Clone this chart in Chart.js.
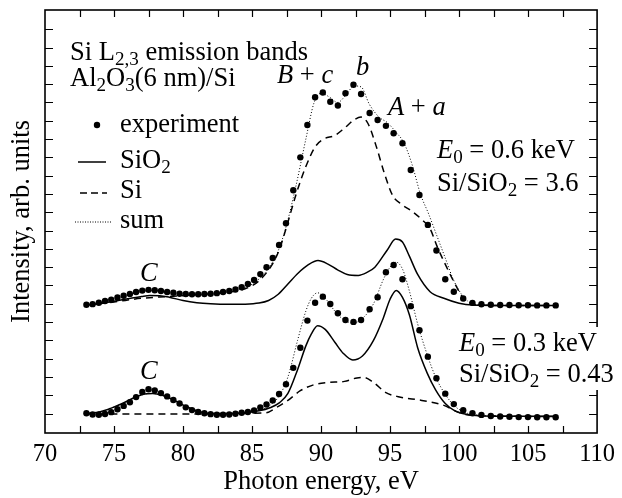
<!DOCTYPE html>
<html><head><meta charset="utf-8">
<script src="https://cdn.jsdelivr.net/npm/chart.js@4.4.1/dist/chart.umd.min.js"></script>
<style>html,body{margin:0;padding:0;background:#fff;}</style>
</head><body>
<canvas id="c" width="622" height="498"></canvas>
<script>
// ---- data (photon energy, eV ; intensity in arb. units) ----
const energy = [73.0,73.45,73.9,74.35,74.8,75.25,75.7,76.15,76.6,77.05,77.5,77.95,78.4,78.85,79.3,79.75,80.2,80.65,81.1,81.55,82.0,82.45,82.9,83.35,83.8,84.25,84.7,85.15,85.6,86.05,86.5,86.96,87.46,87.99,88.5,89.01,89.57,90.13,90.67,91.22,91.77,92.35,92.9,93.52,94.1,94.7,95.26,95.9,96.5,97.13,97.74,98.36,99.0,99.62,100.3,100.97,101.62,102.3,102.98,103.65,104.32,104.99,105.66,106.33,107.0];
const expHigh = [5.95,5.98,6.06,6.15,6.22,6.34,6.44,6.54,6.64,6.72,6.76,6.74,6.7,6.64,6.6,6.55,6.53,6.52,6.52,6.53,6.55,6.58,6.64,6.7,6.78,6.9,7.08,7.3,7.62,8.0,8.5,9.21,10.4,12.2,14.0,15.77,17.28,17.54,17.04,16.83,17.5,17.97,17.46,16.42,16.04,15.72,15.32,14.77,13.31,11.94,10.31,8.91,7.34,6.66,6.29,6.05,5.97,5.95,5.93,5.93,5.92,5.92,5.91,5.91,5.91];
const expLow = [0.02,-0.05,-0.06,-0.02,0.08,0.24,0.42,0.62,0.9,1.18,1.33,1.27,1.12,0.94,0.74,0.55,0.34,0.19,0.09,0.02,-0.03,-0.06,-0.06,-0.05,-0.01,0.05,0.09,0.17,0.33,0.5,0.72,1.07,1.6,2.5,3.6,5.08,6.06,6.39,5.99,5.48,5.11,5.01,5.11,5.7,6.36,7.72,8.12,7.34,5.87,4.55,3.11,1.93,1.09,0.52,0.18,0.02,-0.07,-0.13,-0.16,-0.17,-0.19,-0.19,-0.2,-0.2,-0.2];

const highSiO2E = [73,74,75,76,77,77.6,78.3,79,80,81,82,83.3,84.5,85.5,86.2,86.9,87.6,88.35,89.06,89.78,90.5,91.2,91.9,92.7,93.3,93.9,94.8,95.4,95.9,96.4,97.0,97.9,98.9,100.0,101.0,103,107];
const highSiO2I = [5.93,6.02,6.14,6.28,6.4,6.45,6.44,6.36,6.18,6.06,6.0,5.97,5.98,6.04,6.18,6.52,7.08,7.68,8.12,8.36,8.17,7.85,7.6,7.55,7.7,8.0,8.94,9.54,9.38,8.6,7.6,6.66,6.3,6.03,5.93,5.91,5.9];
const highSiE = [73,75,77,79,81,83,84.5,85.5,86.5,87,87.5,88.2,88.9,89.6,90.2,91,91.7,92.4,92.9,93.4,94,94.6,95.2,95.8,96.6,97.3,97.9,98.4,99.1,99.8,100.4,101,103,107];
const highSiI = [5.93,6.1,6.3,6.4,6.5,6.62,6.82,7.25,8.2,9.0,10.2,12.0,13.5,14.6,15.0,15.2,15.6,16.05,16.2,15.85,14.6,13.1,11.9,11.45,11.05,10.6,10.1,9.15,8.0,6.95,6.2,5.95,5.91,5.9];
const highSumE = [73,74,75,76,77,77.6,78.3,79,80,81,82,83,84,84.8,85.5,86.2,86.9,87.5,88.2,88.9,89.5,90.0,90.6,91.2,91.8,92.4,92.9,93.5,94.2,94.8,95.4,96.0,96.6,97.2,97.8,98.4,99.0,99.6,100.3,101,103,107];
const highSumI = [5.93,6.05,6.25,6.48,6.67,6.73,6.7,6.62,6.55,6.5,6.52,6.6,6.75,6.98,7.35,7.95,8.9,10.3,12.5,15.0,17.0,17.5,17.3,17.0,17.4,17.9,17.85,16.9,16.2,15.9,15.4,14.8,13.6,12.0,10.9,9.7,8.5,7.3,6.4,6.0,5.91,5.9];

const lowSiO2E = [73,74,74.8,75.6,76.4,77.2,77.8,78.5,79.3,80.2,81,81.8,83,84.5,85.5,86.3,87,87.6,88.3,88.9,89.3,89.75,90.3,91.0,91.6,92.3,93.0,93.8,94.5,95.0,95.45,95.9,96.4,97.0,97.7,98.3,99.0,99.7,100.6,101.5,103,107];
const lowSiO2I = [0.0,0.1,0.3,0.55,0.85,1.07,1.1,1.0,0.75,0.4,0.15,0.02,0.0,0.05,0.15,0.32,0.6,1.1,2.4,3.7,4.35,4.8,4.6,3.9,3.3,2.93,3.15,4.0,5.2,6.25,6.73,6.35,5.4,3.6,2.2,1.3,0.55,0.15,-0.05,-0.12,-0.14,-0.15];
const lowSiE = [73,80,86,86.8,87.6,88.5,89.5,90.5,91.7,92.6,93.1,93.8,94.7,95.6,97.3,98.9,99.8,100.5,103,107];
const lowSiI = [-0.02,-0.02,0.05,0.35,0.72,1.25,1.58,1.7,1.76,1.95,1.97,1.7,1.15,0.92,0.72,0.45,0.12,-0.05,-0.14,-0.16];
const lowSumE = [73,74,74.8,75.6,76.4,77.2,77.8,78.5,79.3,80.2,81,81.8,83,84.5,85.5,86.3,87,87.6,88.3,88.9,89.3,89.75,90.3,91.0,91.6,92.3,93.0,93.8,94.5,95.0,95.45,95.9,96.4,97.0,97.7,98.3,99.0,99.7,100.6,101.5,103,107];
const lowSumI = [0.0,0.1,0.3,0.55,0.85,1.07,1.1,1.0,0.75,0.4,0.15,0.02,0.0,0.05,0.17,0.45,1.0,2.0,4.0,5.6,6.3,6.6,6.3,5.6,5.15,4.95,5.2,6.0,7.3,8.0,8.27,7.9,6.7,4.9,3.2,2.0,1.05,0.4,0.02,-0.1,-0.14,-0.16];

const xTickLabels = [70,75,80,85,90,95,100,105,110];
const xTickMarks = [72.5,75,77.5,80,82.5,85,87.5,90,92.5,95,97.5,100,102.5,105,107.5];
const yTickMarks = [0,1,2,3,4,5,6,7,8,9,10,11,12,13,14,15,16,17,18,19,20,21];

// ---- helpers ----
const FONT = '"Liberation Serif","Times New Roman",serif';
const FS = 26.5;
const TICK_FS = 24.5;
const pts = (xs, ys) => xs.map((x, i) => ({x, y: ys[i]}));

function drawRuns(ctx, x, y, parts, size) {
  let cx = x;
  for (const [t, st] of parts) {
    const sub = st.includes('s');
    const it = st.includes('i');
    const fs = sub ? size * 0.72 : size;
    ctx.font = (it ? 'italic ' : '') + fs + 'px ' + FONT;
    ctx.fillText(t, cx, sub ? y + size * 0.2 : y);
    cx += ctx.measureText(t).width;
  }
  return cx;
}

const annot = {
  id: 'annot',
  afterDraw(chart) {
    const {ctx, chartArea: a, scales: {x, y}} = chart;
    ctx.save();
    ctx.strokeStyle = '#000';
    ctx.lineWidth = 1.2;
    ctx.beginPath();
    for (const v of xTickMarks) {
      const px = Math.round(x.getPixelForValue(v)) + 0.5;
      ctx.moveTo(px, a.bottom); ctx.lineTo(px, a.bottom - 7);
      ctx.moveTo(px, a.top); ctx.lineTo(px, a.top + 7);
    }
    for (const v of yTickMarks) {
      const py = Math.round(y.getPixelForValue(v)) + 0.5;
      ctx.moveTo(a.left, py); ctx.lineTo(a.left + 8, py);
      ctx.moveTo(a.right, py); ctx.lineTo(a.right - 8, py);
    }
    ctx.stroke();
    ctx.lineWidth = 1.6;
    ctx.strokeRect(a.left, a.top, a.right - a.left, a.bottom - a.top);

    // white box behind the lower-right annotation
    ctx.fillStyle = '#fff';
    ctx.fillRect(455, 327, 165, 63);

    ctx.fillStyle = '#000';
    ctx.textBaseline = 'alphabetic';
    ctx.textAlign = 'left';
    drawRuns(ctx, 70, 60, [['Si L', ''], ['2,3', 's'], [' emission bands', '']], FS);
    drawRuns(ctx, 70, 86, [['Al', ''], ['2', 's'], ['O', ''], ['3', 's'], ['(6 nm)/Si', '']], FS);
    drawRuns(ctx, 277, 83, [['B', 'i'], [' + ', ''], ['c', 'i']], FS);
    drawRuns(ctx, 356, 75, [['b', 'i']], FS);
    drawRuns(ctx, 388, 115, [['A', 'i'], [' + ', ''], ['a', 'i']], FS);
    drawRuns(ctx, 437, 158, [['E', 'i'], ['0', 's'], [' = 0.6 keV', '']], FS);
    drawRuns(ctx, 437, 191, [['Si/SiO', ''], ['2', 's'], [' = 3.6', '']], FS);
    drawRuns(ctx, 140, 281, [['C', 'i']], FS);
    drawRuns(ctx, 140, 379, [['C', 'i']], FS);
    drawRuns(ctx, 459, 351, [['E', 'i'], ['0', 's'], [' = 0.3 keV', '']], FS);
    drawRuns(ctx, 459, 382, [['Si/SiO', ''], ['2', 's'], [' = 0.43', '']], FS);

    // legend
    ctx.beginPath(); ctx.arc(97, 125, 3.2, 0, Math.PI * 2); ctx.fill();
    drawRuns(ctx, 120, 132, [['experiment', '']], FS);
    ctx.lineWidth = 1.5;
    ctx.beginPath(); ctx.moveTo(78, 162); ctx.lineTo(106, 162); ctx.stroke();
    drawRuns(ctx, 120, 168, [['SiO', ''], ['2', 's']], FS);
    ctx.setLineDash([7, 4]);
    ctx.beginPath(); ctx.moveTo(80, 193); ctx.lineTo(107, 193); ctx.stroke();
    drawRuns(ctx, 120, 198, [['Si', '']], FS);
    ctx.setLineDash([1, 1.5]);
    ctx.lineWidth = 1;
    ctx.beginPath(); ctx.moveTo(75, 222); ctx.lineTo(112, 222); ctx.stroke();
    ctx.setLineDash([]);
    drawRuns(ctx, 120, 228, [['sum', '']], FS);
    ctx.restore();
  }
};

const dotStyle = {showLine: false, pointRadius: 3.2, pointBackgroundColor: '#000', pointBorderWidth: 0, borderColor: '#000'};
const lineBase = {pointRadius: 0, borderColor: '#000', tension: 0.35, cubicInterpolationMode: 'monotone', fill: false};

new Chart(document.getElementById('c'), {
  type: 'line',
  data: {
    datasets: [
      Object.assign({label: 'experiment 0.6', data: pts(energy, expHigh)}, dotStyle),
      Object.assign({label: 'experiment 0.3', data: pts(energy, expLow)}, dotStyle),
      Object.assign({label: 'SiO2 0.6', data: pts(highSiO2E, highSiO2I), borderWidth: 1.5}, lineBase),
      Object.assign({label: 'Si 0.6', data: pts(highSiE, highSiI), borderWidth: 1.5, borderDash: [7, 5]}, lineBase),
      Object.assign({label: 'sum 0.6', data: pts(highSumE, highSumI), borderWidth: 1, borderDash: [1, 2]}, lineBase),
      Object.assign({label: 'SiO2 0.3', data: pts(lowSiO2E, lowSiO2I), borderWidth: 1.5}, lineBase),
      Object.assign({label: 'Si 0.3', data: pts(lowSiE, lowSiI), borderWidth: 1.5, borderDash: [7, 5]}, lineBase),
      Object.assign({label: 'sum 0.3', data: pts(lowSumE, lowSumI), borderWidth: 1, borderDash: [1, 2]}, lineBase)
    ]
  },
  options: {
    responsive: false,
    devicePixelRatio: 1,
    animation: false,
    layout: {padding: {top: 10, right: 21, left: 0, bottom: 0}},
    plugins: {legend: {display: false}, tooltip: {enabled: false}},
    scales: {
      x: {
        type: 'linear', min: 70, max: 110,
        grid: {display: false, drawTicks: false},
        border: {display: false},
        afterBuildTicks: s => { s.ticks = xTickLabels.map(v => ({value: v})); },
        afterFit: s => { s.height = 65; },
        ticks: {color: '#000', font: {family: FONT, size: TICK_FS}, padding: 7, maxRotation: 0, autoSkip: false},
        title: {display: true, text: 'Photon energy, eV', color: '#000', font: {family: FONT, size: FS}, padding: {top: 0, bottom: 0}}
      },
      y: {
        type: 'linear', min: -1.06, max: 22.05,
        grid: {display: false, drawTicks: false},
        border: {display: false},
        ticks: {display: false},
        afterFit: s => { s.width = 45; },
        title: {display: true, text: 'Intensity, arb. units', color: '#000', font: {family: FONT, size: FS}, padding: {top: 6, bottom: 0}}
      }
    }
  },
  plugins: [annot]
});
</script>
</body></html>
